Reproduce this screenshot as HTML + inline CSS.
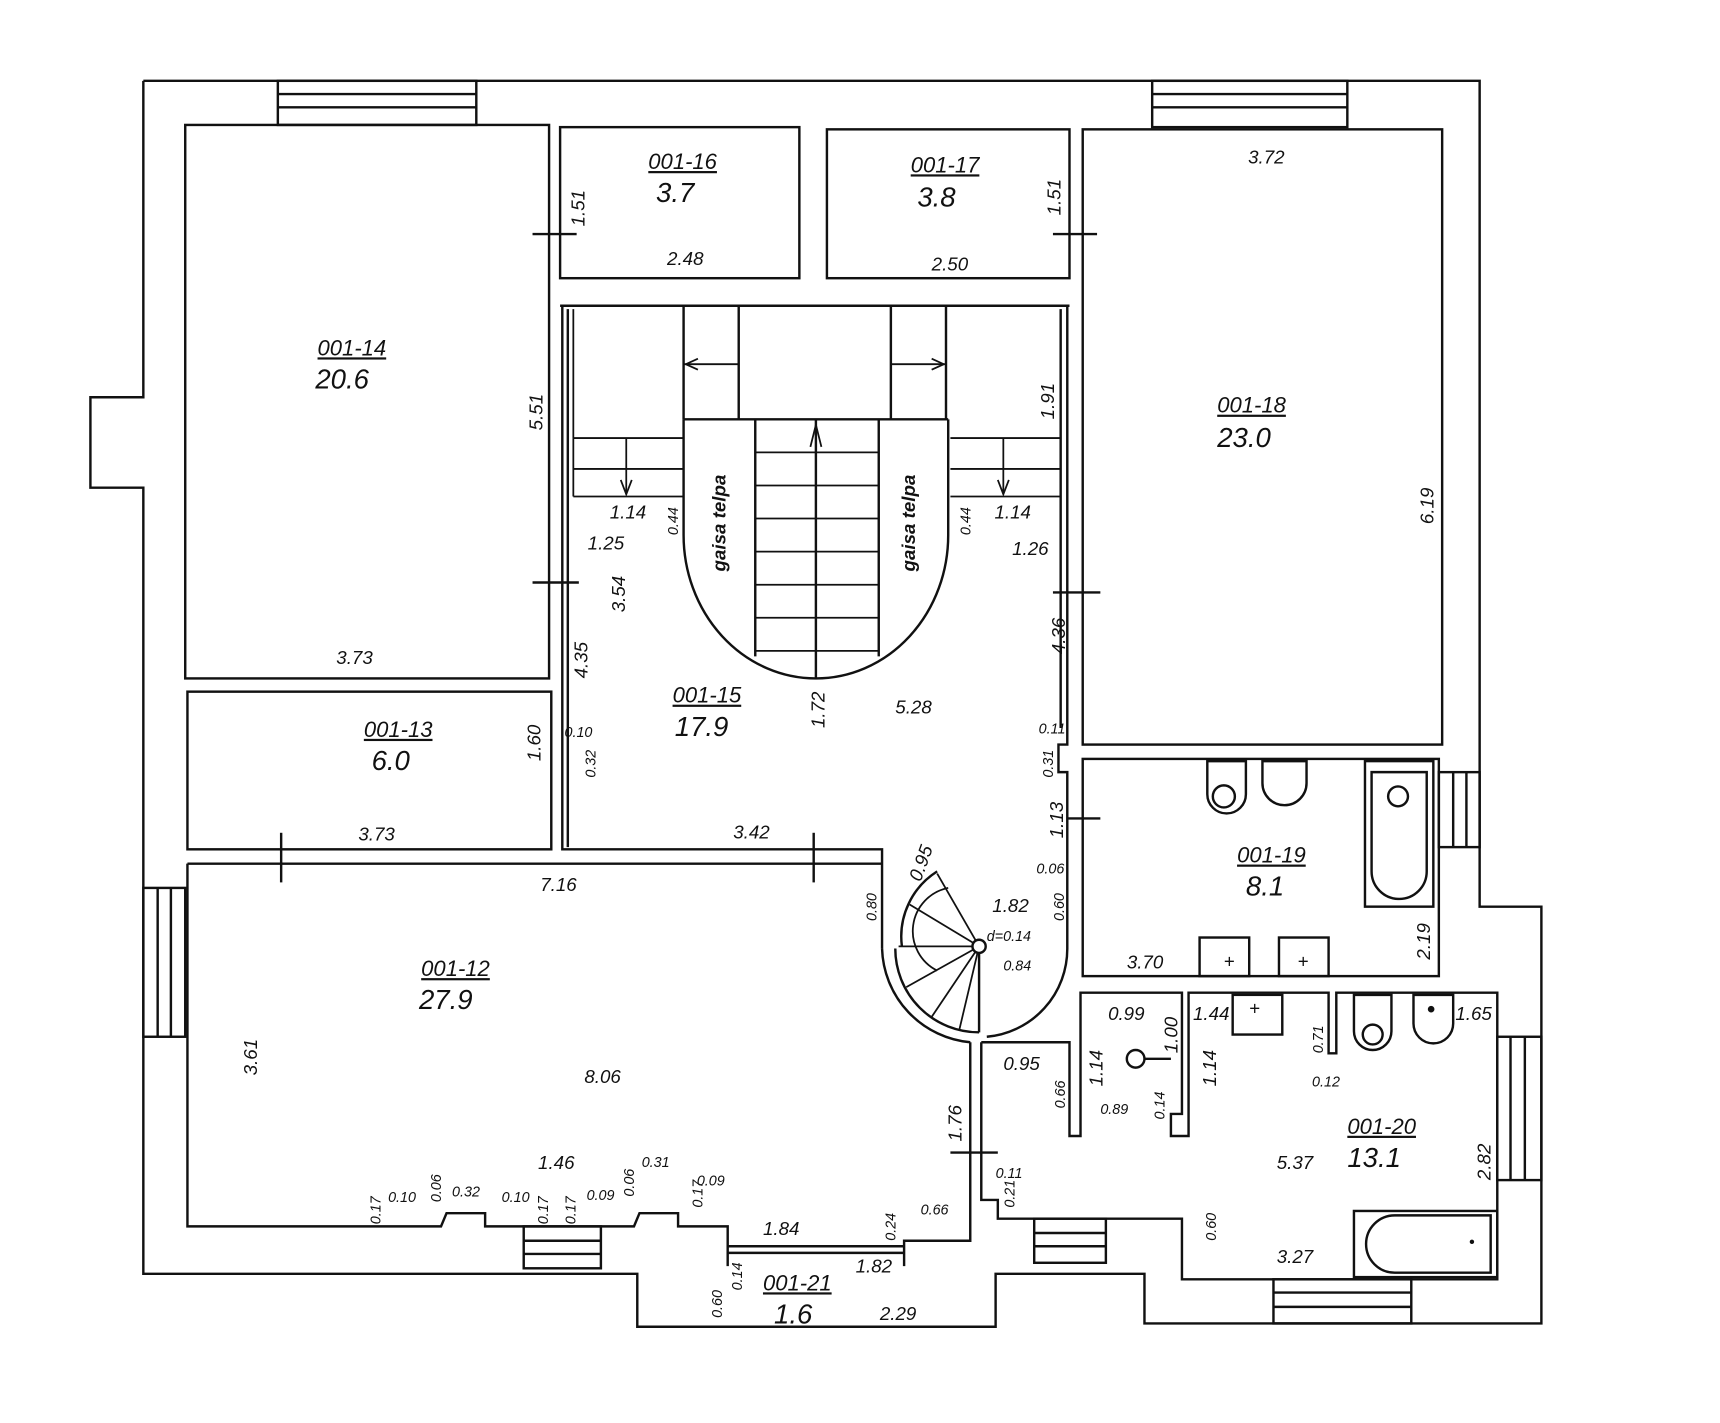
<!DOCTYPE html>
<html><head><meta charset="utf-8"><style>
html,body{margin:0;padding:0;background:#fff;}
svg{display:block;}
text{font-family:"Liberation Sans",sans-serif;font-style:italic;fill:#111;}
.d{font-size:17px;}
.s{font-size:13px;}
.l{font-size:20px;text-decoration:underline;}
.a{font-size:25px;}
</style></head><body>
<svg width="1720" height="1423" viewBox="0 0 1560 1290" xmlns="http://www.w3.org/2000/svg">
<g fill="none" stroke="#111" stroke-width="2.2">
<!-- outer wall -->
<polyline points="130,73 1342,73 1342,822 1398,822 1398,1200 1038,1200 1038,1155 903,1155 903,1203 578,1203 578,1155 130,1155 130,442 82,442 82,360 130,360 130,73"/>
<!-- windows -->
<rect x="252" y="73" width="180" height="40"/><line x1="252" y1="85" x2="432" y2="85"/><line x1="252" y1="97" x2="432" y2="97"/>
<rect x="1045" y="73" width="177" height="42"/><line x1="1045" y1="85" x2="1222" y2="85"/><line x1="1045" y1="97" x2="1222" y2="97"/>
<rect x="130" y="805" width="38" height="135"/><line x1="143" y1="805" x2="143" y2="940"/><line x1="155" y1="805" x2="155" y2="940"/>
<rect x="1305" y="700" width="37" height="68"/><line x1="1318" y1="700" x2="1318" y2="768"/><line x1="1330" y1="700" x2="1330" y2="768"/>
<rect x="1358" y="940" width="40" height="130"/><line x1="1370" y1="940" x2="1370" y2="1070"/><line x1="1383" y1="940" x2="1383" y2="1070"/>
<rect x="475" y="1112" width="70" height="38"/><line x1="475" y1="1125" x2="545" y2="1125"/><line x1="475" y1="1137" x2="545" y2="1137"/>
<rect x="938" y="1105" width="65" height="40"/><line x1="938" y1="1118" x2="1003" y2="1118"/><line x1="938" y1="1130" x2="1003" y2="1130"/>
<rect x="1155" y="1160" width="125" height="40"/><line x1="1155" y1="1172" x2="1280" y2="1172"/><line x1="1155" y1="1185" x2="1280" y2="1185"/>
<!-- rooms -->
<rect x="168" y="113" width="330" height="502"/>
<rect x="170" y="627" width="330" height="143"/>
<rect x="508" y="115" width="217" height="137"/>
<rect x="750" y="117" width="220" height="135"/>
<rect x="982" y="117" width="326" height="558"/>
<rect x="982" y="688" width="323" height="197"/>
<!-- hall -->
<polyline points="508,277 970,277"/>
<polyline points="510,277 510,770 800,770 800,860"/>
<polyline points="968,277 968,675 960,675 960,700 968,700 968,860"/>
<line x1="962" y1="280" x2="962" y2="660"/>
<line x1="515" y1="280" x2="515" y2="768"/>
<path d="M800,860 A88,88 0 0 0 880,945"/>
<path d="M812,860 A76,76 0 0 0 888,936"/>
<path d="M968,860 A80,80 0 0 1 895,940"/>
<line x1="888" y1="858" x2="888" y2="936"/>
<!-- spiral steps -->
<path d="M850,790 A70,70 0 0 0 818,858"/>
<g stroke-width="1.6"><line x1="888" y1="858" x2="850" y2="792"/><line x1="888" y1="858" x2="825" y2="820"/><line x1="888" y1="858" x2="815" y2="858"/><line x1="888" y1="858" x2="822" y2="895"/><line x1="888" y1="858" x2="845" y2="922"/><line x1="888" y1="858" x2="870" y2="934"/>
<path d="M860,805 A40,40 0 0 0 850,880"/></g>
<circle cx="888" cy="858" r="6" fill="#fff"/>
<!-- 001-12 -->
<polyline points="170,783 800,783"/>
<polyline points="170,783 170,1112 400,1112 405,1100 440,1100 440,1112 575,1112 580,1100 615,1100 615,1112 660,1112 660,1148"/>
<polyline points="820,1148 820,1125 880,1125 880,1090 880,945"/>
<line x1="660" y1="1130" x2="820" y2="1130"/><line x1="660" y1="1136" x2="820" y2="1136"/>
<!-- 001-20 -->
<polyline points="890,945 890,1088 905,1088 905,1105 1072,1105 1072,1160 1358,1160 1358,900 1212,900 1212,955 1205,955 1205,900 1078,900 1078,1030 1062,1030 1062,1010 1072,1010 1072,900 980,900 980,1030 970,1030 970,945 890,945"/>
<rect x="1228" y="1098" width="130" height="60"/>
<path d="M1265,1102 L1352,1102 L1352,1154 L1265,1154 A26,26 0 0 1 1265,1102 Z"/>
<!-- 001-19 fixtures -->
<rect x="1238" y="690" width="62" height="132"/>
<path d="M1244,700 L1294,700 L1294,790 A25,25 0 0 1 1244,790 Z"/>
<circle cx="1268" cy="722" r="9"/>
<path d="M1095,690 L1130,690 L1130,720 A17,17 0 0 1 1095,720 Z"/><circle cx="1110" cy="722" r="10"/>
<path d="M1145,690 L1185,690 L1185,710 A20,20 0 0 1 1145,710 Z"/>
<rect x="1088" y="850" width="45" height="35"/><rect x="1160" y="850" width="45" height="35"/>
<rect x="1118" y="902" width="45" height="36"/>
<path d="M1228,902 L1262,902 L1262,935 A17,17 0 0 1 1228,935 Z"/><circle cx="1245" cy="938" r="9"/>
<path d="M1282,902 L1318,902 L1318,928 A18,18 0 0 1 1282,928 Z"/>
<circle cx="1030" cy="960" r="8"/><line x1="1038" y1="960" x2="1062" y2="960"/>
<!-- door ticks -->
<line x1="483" y1="212" x2="523" y2="212"/><line x1="955" y1="212" x2="995" y2="212"/>
<line x1="483" y1="528" x2="525" y2="528"/><line x1="955" y1="537" x2="998" y2="537"/>
<line x1="255" y1="755" x2="255" y2="800"/><line x1="738" y1="755" x2="738" y2="800"/>
<line x1="862" y1="1045" x2="905" y2="1045"/><line x1="968" y1="742" x2="998" y2="742"/>
<!-- staircase -->
<line x1="620" y1="277" x2="620" y2="380"/><line x1="670" y1="277" x2="670" y2="380"/>
<line x1="808" y1="277" x2="808" y2="380"/><line x1="858" y1="277" x2="858" y2="380"/>
<line x1="620" y1="380" x2="860" y2="380"/>
<path d="M620,380 L620,485 A120,130 0 0 0 860,485 L860,380"/>
<line x1="685" y1="380" x2="685" y2="595"/><line x1="797" y1="380" x2="797" y2="595"/><line x1="740" y1="380" x2="740" y2="615"/>
<g stroke-width="1.6">
<line x1="685" y1="410" x2="797" y2="410"/><line x1="685" y1="440" x2="797" y2="440"/><line x1="685" y1="470" x2="797" y2="470"/><line x1="685" y1="500" x2="797" y2="500"/><line x1="685" y1="530" x2="797" y2="530"/><line x1="685" y1="560" x2="797" y2="560"/><line x1="685" y1="590" x2="797" y2="590"/>
<line x1="620" y1="330" x2="670" y2="330"/><line x1="808" y1="330" x2="858" y2="330"/>
<line x1="520" y1="397" x2="620" y2="397"/><line x1="520" y1="425" x2="620" y2="425"/><line x1="520" y1="450" x2="620" y2="450"/><line x1="520" y1="397" x2="520" y2="450"/><line x1="520" y1="280" x2="520" y2="397"/><line x1="568" y1="397" x2="568" y2="448"/>
<line x1="862" y1="397" x2="962" y2="397"/><line x1="862" y1="425" x2="962" y2="425"/><line x1="862" y1="450" x2="962" y2="450"/><line x1="910" y1="397" x2="910" y2="448"/>
<path d="M563,435 L568,448 L573,435"/><path d="M905,435 L910,448 L915,435"/><path d="M735,405 L740,385 L745,405"/>
<path d="M633,325 L622,330 L633,335"/><path d="M845,325 L856,330 L845,335"/>
</g>
</g>
<g fill="#111" stroke="none">
<text x="1110" y="877" class="d" style="font-style:normal">+</text><text x="1177" y="877" class="d" style="font-style:normal">+</text><text x="1133" y="920" class="d" style="font-style:normal">+</text>
<circle cx="1335" cy="1126" r="2"/><circle cx="1298" cy="915" r="3"/>
</g>
<!-- labels -->
<text x="288" y="322" class="l">001-14</text><text x="286" y="352" class="a">20.6</text>
<text x="588" y="153" class="l">001-16</text><text x="595" y="183" class="a">3.7</text>
<text x="826" y="156" class="l">001-17</text><text x="832" y="187" class="a">3.8</text>
<text x="1104" y="374" class="l">001-18</text><text x="1104" y="405" class="a">23.0</text>
<text x="330" y="668" class="l">001-13</text><text x="337" y="698" class="a">6.0</text>
<text x="610" y="637" class="l">001-15</text><text x="612" y="667" class="a">17.9</text>
<text x="1122" y="782" class="l">001-19</text><text x="1130" y="812" class="a">8.1</text>
<text x="382" y="885" class="l">001-12</text><text x="380" y="915" class="a">27.9</text>
<text x="1222" y="1028" class="l">001-20</text><text x="1222" y="1058" class="a">13.1</text>
<text x="692" y="1170" class="l">001-21</text><text x="702" y="1200" class="a">1.6</text>
<!-- dims -->
<text x="1132" y="148" class="d">3.72</text><text x="605" y="240" class="d">2.48</text><text x="845" y="245" class="d">2.50</text>
<text x="305" y="602" class="d">3.73</text><text x="325" y="762" class="d">3.73</text><text x="665" y="760" class="d">3.42</text>
<text x="490" y="808" class="d">7.16</text><text x="530" y="982" class="d">8.06</text><text x="812" y="647" class="d">5.28</text>
<text x="1022" y="878" class="d">3.70</text><text x="1158" y="1060" class="d">5.37</text><text x="1158" y="1145" class="d">3.27</text>
<text x="900" y="827" class="d">1.82</text><text x="553" y="470" class="d">1.14</text><text x="902" y="470" class="d">1.14</text>
<text x="533" y="498" class="d">1.25</text><text x="918" y="503" class="d">1.26</text><text x="488" y="1060" class="d">1.46</text>
<text x="692" y="1120" class="d">1.84</text><text x="776" y="1154" class="d">1.82</text><text x="798" y="1197" class="d">2.29</text>
<text x="910" y="970" class="d">0.95</text><text x="1005" y="925" class="d">0.99</text><text x="1082" y="925" class="d">1.44</text><text x="1320" y="925" class="d">1.65</text>
<text x="998" y="1010" class="s">0.89</text><text x="1190" y="985" class="s">0.12</text><text x="835" y="1101" class="s">0.66</text>
<text x="895" y="853" class="s">d=0.14</text><text x="910" y="880" class="s">0.84</text>
<g class="d">
<text transform="translate(530,205) rotate(-90)">1.51</text><text transform="translate(962,195) rotate(-90)">1.51</text>
<text transform="translate(492,390) rotate(-90)">5.51</text><text transform="translate(956,380) rotate(-90)">1.91</text>
<text transform="translate(1300,475) rotate(-90)">6.19</text><text transform="translate(567,555) rotate(-90)">3.54</text>
<text transform="translate(533,615) rotate(-90)">4.35</text><text transform="translate(966,593) rotate(-90)">4.36</text>
<text transform="translate(490,690) rotate(-90)">1.60</text><text transform="translate(748,660) rotate(-90)">1.72</text>
<text transform="translate(964,760) rotate(-90)">1.13</text><text transform="translate(1297,870) rotate(-90)">2.19</text>
<text transform="translate(233,975) rotate(-90)">3.61</text><text transform="translate(872,1035) rotate(-90)">1.76</text>
<text transform="translate(1352,1070) rotate(-90)">2.82</text><text transform="translate(1000,985) rotate(-90)">1.14</text>
<text transform="translate(1103,985) rotate(-90)">1.14</text><text transform="translate(1068,955) rotate(-90)">1.00</text>
<text transform="translate(835,800) rotate(-70)">0.95</text>
</g>
<g class="s">
<text transform="translate(615,485) rotate(-90)">0.44</text><text transform="translate(880,485) rotate(-90)">0.44</text>
<text transform="translate(540,705) rotate(-90)">0.32</text><text x="512" y="668">0.10</text>
<text x="942" y="665">0.11</text><text transform="translate(955,705) rotate(-90)">0.31</text>
<text x="940" y="792">0.06</text><text transform="translate(965,835) rotate(-90)">0.60</text>
<text transform="translate(795,835) rotate(-90)">0.80</text><text transform="translate(966,1005) rotate(-90)">0.66</text>
<text transform="translate(1056,1015) rotate(-90)">0.14</text><text transform="translate(1200,955) rotate(-90)">0.71</text>
<text transform="translate(1103,1125) rotate(-90)">0.60</text><text x="903" y="1068">0.11</text>
<text transform="translate(920,1095) rotate(-90)">0.21</text><text transform="translate(812,1125) rotate(-90)">0.24</text>
<text transform="translate(655,1195) rotate(-90)">0.60</text><text transform="translate(673,1170) rotate(-90)">0.14</text>
<text transform="translate(345,1110) rotate(-90)">0.17</text><text x="352" y="1090">0.10</text><text transform="translate(400,1090) rotate(-90)">0.06</text>
<text x="410" y="1085">0.32</text><text x="455" y="1090">0.10</text><text transform="translate(497,1110) rotate(-90)">0.17</text>
<text transform="translate(522,1110) rotate(-90)">0.17</text><text x="532" y="1088">0.09</text><text transform="translate(575,1085) rotate(-90)">0.06</text>
<text x="582" y="1058">0.31</text><text x="632" y="1075">0.09</text><text transform="translate(637,1095) rotate(-90)">0.17</text>
</g>
<g style="font-style:normal;font-size:17px;font-weight:bold">
<text transform="translate(658,518) rotate(-90)">gaisa telpa</text>
<text transform="translate(830,518) rotate(-90)">gaisa telpa</text>
</g>
</svg>
</body></html>
